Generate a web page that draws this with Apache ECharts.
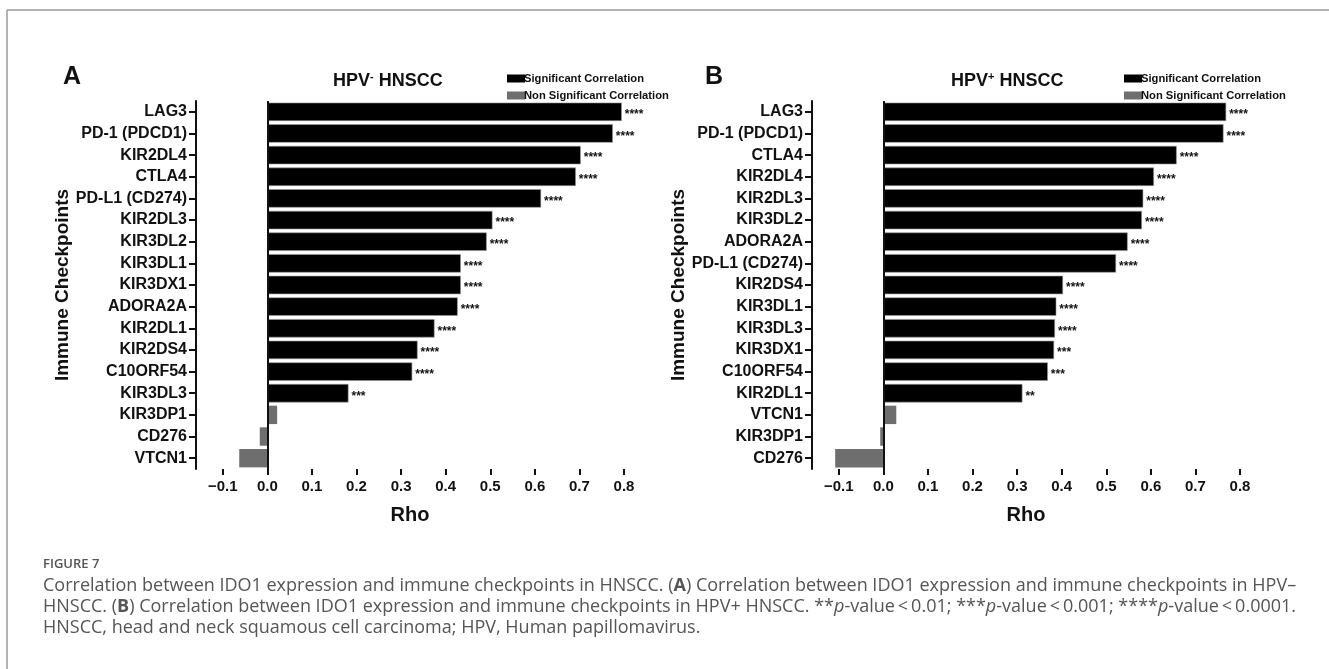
<!DOCTYPE html>
<html>
<head>
<meta charset="utf-8">
<script src="https://cdn.jsdelivr.net/npm/echarts@6/dist/echarts.min.js"></script>
<style>
  html, body { margin: 0; padding: 0; background: #fff; }
  #main { width: 1329px; height: 669px; }
</style>
</head>
<body>
<div id="main"></div>
<script>
// Panel A: HPV- HNSCC
var genesA = ['LAG3', 'PD-1 (PDCD1)', 'KIR2DL4', 'CTLA4', 'PD-L1 (CD274)', 'KIR2DL3', 'KIR3DL2', 'KIR3DL1',
  'KIR3DX1', 'ADORA2A', 'KIR2DL1', 'KIR2DS4', 'C10ORF54', 'KIR3DL3', 'KIR3DP1', 'CD276', 'VTCN1'];
var rhoA = [0.795, 0.775, 0.703, 0.692, 0.614, 0.505, 0.492, 0.434, 0.434, 0.427, 0.375, 0.337, 0.325, 0.182, 0.022, -0.017, -0.063];
var starsA = ['****', '****', '****', '****', '****', '****', '****', '****', '****', '****', '****', '****', '****', '***', '', '', ''];

// Panel B: HPV+ HNSCC
var genesB = ['LAG3', 'PD-1 (PDCD1)', 'CTLA4', 'KIR2DL4', 'KIR2DL3', 'KIR3DL2', 'ADORA2A', 'PD-L1 (CD274)',
  'KIR2DS4', 'KIR3DL1', 'KIR3DL3', 'KIR3DX1', 'C10ORF54', 'KIR2DL1', 'VTCN1', 'KIR3DP1', 'CD276'];
var rhoB = [0.769, 0.763, 0.658, 0.607, 0.583, 0.580, 0.548, 0.522, 0.403, 0.388, 0.385, 0.383, 0.369, 0.312, 0.029, -0.007, -0.108];
var starsB = ['****', '****', '****', '****', '****', '****', '****', '****', '****', '****', '****', '***', '***', '**', '', '', ''];

var rhoTicks = [-0.1, 0, 0.1, 0.2, 0.3, 0.4, 0.5, 0.6, 0.7, 0.8];

var FONT = '"Liberation Sans", Arial, sans-serif';
var SIG = '#000000', NONSIG = '#6e6e6e';

function sigData(vals, stars) {
  return vals.map(function (v, i) { return stars[i] ? v : '-'; });
}
function nonSigData(vals, stars) {
  return vals.map(function (v, i) { return stars[i] ? '-' : v; });
}

function makeX(idx) {
  return {
    type: 'value', gridIndex: idx, min: -0.16, max: 0.8,
    name: 'Rho', nameLocation: 'middle', nameGap: 36,
    nameTextStyle: { fontFamily: FONT, fontWeight: 'bold', fontSize: 20, color: '#111' },
    splitLine: { show: false },
    axisLine: { onZero: false, lineStyle: { color: '#111', width: 2 } },
    axisTick: { show: true, length: 6, lineStyle: { color: '#111', width: 2 }, customValues: rhoTicks },
    axisLabel: {
      customValues: rhoTicks, margin: 10,
      fontFamily: FONT, fontWeight: 'bold', fontSize: 15, color: '#111',
      formatter: function (v) { var s = Math.abs(v).toFixed(1); return v < -1e-9 ? '\u2212' + s : s; }
    }
  };
}
function makeY(idx, cats) {
  return {
    type: 'category', gridIndex: idx, data: cats, inverse: true,
    name: 'Immune Checkpoints', nameLocation: 'middle', nameRotate: 90, nameGap: 122,
    nameTextStyle: { fontFamily: FONT, fontWeight: 'bold', fontSize: 19, color: '#111' },
    axisLine: { onZero: false, lineStyle: { color: '#111', width: 2 } },
    axisTick: { show: true, alignWithLabel: true, length: 7, lineStyle: { color: '#111', width: 2 } },
    axisLabel: { margin: 9, fontFamily: FONT, fontWeight: 'bold', fontSize: 16, color: '#111' }
  };
}
function starLabel(stars) {
  return {
    show: true, position: 'right', distance: 3, offset: [0, 3],
    fontFamily: FONT, fontWeight: 'bold', fontSize: 12, color: '#111',
    formatter: function (p) { return stars[p.dataIndex]; }
  };
}
function makeSeries(idx, vals, stars) {
  return [
    {
      name: 'Significant Correlation', type: 'bar', xAxisIndex: idx, yAxisIndex: idx, stack: 's' + idx,
      barCategoryGap: '15%', data: sigData(vals, stars),
      itemStyle: { color: SIG, borderColor: '#999', borderWidth: 0.6 },
      label: starLabel(stars),
      markLine: {
        silent: true, symbol: 'none', label: { show: false },
        lineStyle: { color: '#111', width: 2, type: 'solid' },
        data: [{ xAxis: 0 }]
      }
    },
    {
      name: 'Non Significant Correlation', type: 'bar', xAxisIndex: idx, yAxisIndex: idx, stack: 's' + idx,
      barCategoryGap: '15%', data: nonSigData(vals, stars),
      itemStyle: { color: NONSIG }
    }
  ];
}

function makeLegend(left) {
  return {
    orient: 'vertical', left: left, top: 68, itemWidth: 18, itemHeight: 8, itemGap: 6,
    icon: 'rect', selectedMode: false,
    itemStyle: { borderWidth: 0 },
    data: ['Significant Correlation', 'Non Significant Correlation'],
    textStyle: { fontFamily: FONT, fontWeight: 'bold', fontSize: 11.2, color: '#111', lineHeight: 9, padding: [0, 0, 0, -6] }
  };
}

var titleRich = {
  a: { fontFamily: FONT, fontWeight: 'bold', fontSize: 18, color: '#111' },
  s: { fontFamily: FONT, fontWeight: 'bold', fontSize: 11, color: '#111', padding: [0, 0, 10, 0] }
};

var chart = echarts.init(document.getElementById('main'));
var option = {
  backgroundColor: '#fff',
  animation: false,
  title: [
    { text: 'A', left: 58, top: 60, textStyle: { fontFamily: FONT, fontWeight: 'bold', fontSize: 25, color: '#111' } },
    { text: 'B', left: 700, top: 60, textStyle: { fontFamily: FONT, fontWeight: 'bold', fontSize: 25, color: '#111' } },
    { text: '{a|HPV}{s|-}{a| HNSCC}', left: 328, top: 66, textStyle: { rich: titleRich } },
    { text: '{a|HPV}{s|+}{a| HNSCC}', left: 946, top: 66, textStyle: { rich: titleRich } }
  ],
  legend: [makeLegend(502), makeLegend(1119)],
  grid: [
    { left: 196, top: 101, width: 428, height: 368, containLabel: false },
    { left: 812, top: 101, width: 428, height: 368, containLabel: false }
  ],
  xAxis: [makeX(0), makeX(1)],
  yAxis: [makeY(0, genesA), makeY(1, genesB)],
  series: makeSeries(0, rhoA, starsA).concat(makeSeries(1, rhoB, starsB)),
  graphic: [
    { type: 'line', shape: { x1: 7, y1: 10, x2: 1329, y2: 10 }, style: { stroke: '#9a9a9a', lineWidth: 1.5 } },
    { type: 'line', shape: { x1: 7, y1: 10, x2: 7, y2: 669 }, style: { stroke: '#9a9a9a', lineWidth: 1.5 } },
    { type: 'text', left: 43, top: 558, style: { text: 'FIGURE 7', font: '600 13px "Open Sans", sans-serif', fill: '#555' } },
    {
      type: 'text', left: 43, top: 575,
      style: {
        text: 'Correlation between IDO1 expression and immune checkpoints in HNSCC. ({b|A}) Correlation between IDO1 expression and immune checkpoints in HPV\u2013\n' +
          'HNSCC. ({b|B}) Correlation between IDO1 expression and immune checkpoints in HPV+ HNSCC. **{i|p}-value\u2009<\u20090.01; ***{i|p}-value\u2009<\u20090.001; ****{i|p}-value\u2009<\u20090.0001.\n' +
          'HNSCC, head and neck squamous cell carcinoma; HPV, Human papillomavirus.',
        font: '18px "Open Sans", sans-serif', fill: '#555', lineHeight: 21,
        rich: {
          b: { font: 'bold 18px "Open Sans", sans-serif', fill: '#555', lineHeight: 21 },
          i: { font: 'italic 18px "Open Sans", sans-serif', fill: '#555', lineHeight: 21 }
        }
      }
    }
  ]
};
chart.setOption(option);
</script>
</body>
</html>
